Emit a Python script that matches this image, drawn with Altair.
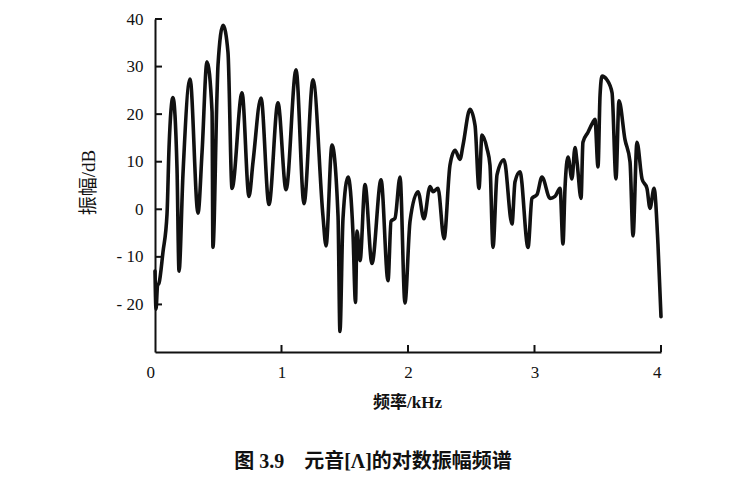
import altair as alt
import pandas as pd

# Frequency (kHz) and log amplitude (dB)
freq_khz = [0.000, 0.008, 0.020, 0.032, 0.063, 0.095, 0.111, 0.142, 0.174, 0.190,
            0.221, 0.277, 0.340, 0.372, 0.411, 0.451, 0.458, 0.490, 0.498, 0.538,
            0.577, 0.609, 0.688, 0.743, 0.775, 0.838, 0.901, 0.972, 1.036, 1.115,
            1.178, 1.249, 1.328, 1.352, 1.399, 1.447, 1.462, 1.486, 1.526, 1.565,
            1.585, 1.597, 1.621, 1.660, 1.715, 1.787, 1.842, 1.866, 1.897, 1.937,
            1.976, 2.016, 2.079, 2.126, 2.174, 2.198, 2.237, 2.285, 2.332, 2.372,
            2.411, 2.435, 2.490, 2.530, 2.561, 2.585, 2.625, 2.648, 2.672, 2.704,
            2.759, 2.822, 2.846, 2.885, 2.949, 2.980, 3.020, 3.059, 3.123, 3.162,
            3.202, 3.225, 3.241, 3.265, 3.296, 3.320, 3.336, 3.368, 3.383, 3.423,
            3.462, 3.478, 3.502, 3.518, 3.534, 3.573, 3.613, 3.644, 3.668, 3.715,
            3.755, 3.779, 3.810, 3.850, 3.889, 3.913, 3.945, 3.976, 4.000]
amp_db = [-13, -21, -16, -15.5, -9, -1, 13, 23.5, 8.6, -13,
          7.3, 27.4, -0.8, 12, 31, 20.5, -8, 24, 30.3, 38.7,
          33, 4.4, 24.5, 2.7, 10, 23.4, 1, 22.4, 4.1, 29.3,
          1.2, 27.2, -1.5, -7.7, 13.5, -1.5, -25.7, -2, 6.8, -5,
          -19.6, -4.6, -10.8, 5.2, -11.4, 6.2, -15, -2.5, -1.9, 6.8,
          -19.7, -2.5, 3.7, -2, 4.8, 3.7, 4.4, -6.2, 9.3, 12.4,
          10.5, 13.5, 21, 17.6, 4.4, 15.6, 12.7, 9.3, -8, 7.3,
          10.4, -3.1, 5.8, 7.9, -8, 2.3, 3.1, 6.8, 2.3, 2.7,
          4.4, -7.3, 4.4, 11, 6.4, 13, 10, 2.3, 14.1, 16.2,
          18.3, 18.9, 8.9, 23.9, 28, 27.2, 24.5, 6.4, 22.8, 14.7,
          10, -5.6, 14.1, 6.4, 4.4, 0.2, 4.4, -7.3, -22.6]

y_tick_values = [-20, -10, 0, 10, 20, 30, 40]
x_tick_values = [0, 1, 2, 3, 4]
x_inner_ticks = [1, 2, 3, 4]
caption_text = ["图 3.9\u00a0\u00a0\u00a0\u00a0元音[Λ]的对数振幅频谱"]

SERIF = "Liberation Serif, Noto Sans CJK SC"
INK = "#111111"

df = pd.DataFrame({"f": freq_khz, "a": amp_db})
xs = alt.Scale(domain=[0, 4], nice=False, zero=False)
ys = alt.Scale(domain=[-30, 40], nice=False, zero=False)

x_axis = alt.Axis(
    values=x_tick_values, ticks=False, tickSize=0, grid=False,
    domainWidth=2, domainColor=INK,
    labelFont=SERIF, labelFontSize=17, labelColor=INK, labelPadding=12,
    labelOffset={"condition": {"test": "datum.value == 0", "value": -9}, "value": 0},
    title="频率/kHz", titleFont=SERIF, titleFontSize=17, titleFontWeight="bold",
    titleColor=INK, titleX=252, titleY=50, titleAlign="center", titleBaseline="middle")
y_axis = alt.Axis(
    values=y_tick_values, ticks=False, tickSize=0, grid=False,
    domainWidth=2, domainColor=INK,
    labelFont=SERIF, labelFontSize=17, labelColor=INK, labelPadding=12,
    labelExpr="datum.value < 0 ? '- ' + abs(datum.value) : datum.label",
    title="振幅/dB", titleFont=SERIF, titleFontSize=19, titleFontWeight="normal",
    titleColor=INK, titleX=-67, titleY=163, titleAngle=-90,
    titleAlign="center", titleBaseline="middle")

line = alt.Chart(df).mark_line(
    color=INK, strokeWidth=3.6, interpolate="monotone",
    strokeJoin="round", strokeCap="round"
).encode(
    x=alt.X("f:Q", scale=xs, axis=x_axis),
    y=alt.Y("a:Q", scale=ys, axis=y_axis),
)

yticks = alt.Chart(pd.DataFrame({"v": y_tick_values})).mark_rule(
    color=INK, strokeWidth=2
).encode(
    y=alt.Y("v:Q", scale=ys, axis=y_axis),
    x=alt.value(0), x2=alt.value(7),
)

xticks = alt.Chart(pd.DataFrame({"v": x_inner_ticks})).mark_rule(
    color=INK, strokeWidth=2
).encode(
    x=alt.X("v:Q", scale=xs, axis=x_axis),
    y=alt.value(333), y2=alt.value(326),
)

caption = alt.Chart(pd.DataFrame({"t": caption_text})).mark_text(
    font=SERIF, fontSize=20, fontWeight="bold", color=INK,
    align="center", baseline="middle"
).encode(
    text="t:N", x=alt.value(218), y=alt.value(443)
)

chart = alt.layer(line, yticks, xticks, caption).properties(
    width=506, height=333,
    autosize="none",
    padding={"left": 147, "top": 11, "right": 77, "bottom": 120},
    background="white",
).configure_view(stroke=None)

chart.save("out.html", embed_options={"renderer": "svg", "actions": False})
